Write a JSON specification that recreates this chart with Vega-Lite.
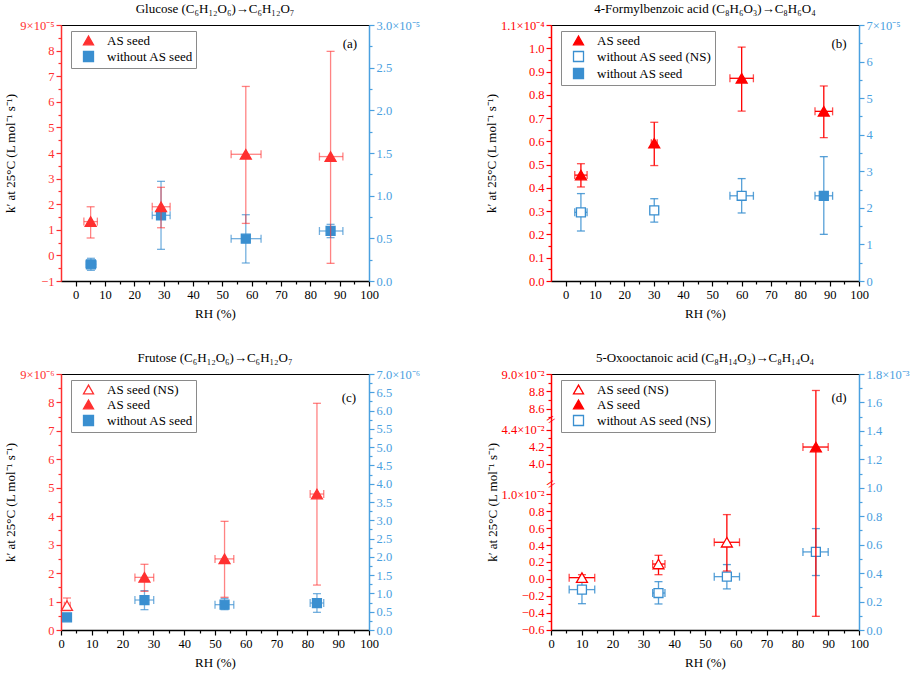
{
  "$schema": "https://vega.github.io/schema/vega-lite/v6.json",
  "background": "white",
  "padding": {"left": 4, "top": 2, "right": 0, "bottom": 0},
  "datasets": {
    "a": [
      {"s": "AS seed", "side": "L", "x": 5.1, "xl": 2.8, "xh": 7.4, "y": 1.32, "yl": 0.68, "yh": 1.9},
      {"s": "AS seed", "side": "L", "x": 29.1, "xl": 26.1, "xh": 32.2, "y": 1.9, "yl": 1.08, "yh": 2.66},
      {"s": "AS seed", "side": "L", "x": 58, "xl": 53, "xh": 63.2, "y": 3.95, "yl": 1.25, "yh": 6.6},
      {"s": "AS seed", "side": "L", "x": 86.9, "xl": 83.1, "xh": 91.1, "y": 3.86, "yl": -0.31, "yh": 7.97},
      {"s": "without AS seed", "side": "R", "x": 5.2, "xl": 3.5, "xh": 7, "y": 0.195, "yl": 0.125, "yh": 0.266},
      {"s": "without AS seed", "side": "R", "x": 29.1, "xl": 26.1, "xh": 32.2, "y": 0.77, "yl": 0.371, "yh": 1.168},
      {"s": "without AS seed", "side": "R", "x": 58, "xl": 53, "xh": 63.2, "y": 0.496, "yl": 0.211, "yh": 0.777},
      {"s": "without AS seed", "side": "R", "x": 86.9, "xl": 83.1, "xh": 91.1, "y": 0.586, "yl": 0.508, "yh": 0.664}
    ],
    "b": [
      {"s": "AS seed", "side": "L", "x": 5.2, "xl": 3.1, "xh": 7.3, "y": 0.455, "yl": 0.404, "yh": 0.504},
      {"s": "AS seed", "side": "L", "x": 30.2, "xl": 29.2, "xh": 31.2, "y": 0.592, "yl": 0.496, "yh": 0.682},
      {"s": "AS seed", "side": "L", "x": 60, "xl": 56, "xh": 64, "y": 0.871, "yl": 0.73, "yh": 1.005},
      {"s": "AS seed", "side": "L", "x": 88, "xl": 85, "xh": 91, "y": 0.729, "yl": 0.616, "yh": 0.838},
      {"s": "without AS seed (NS)", "side": "R", "x": 5.2, "xl": 3.1, "xh": 7.3, "y": 1.878, "yl": 1.367, "yh": 2.39},
      {"s": "without AS seed (NS)", "side": "R", "x": 30.2, "xl": 29.2, "xh": 31.2, "y": 1.93, "yl": 1.61, "yh": 2.25},
      {"s": "without AS seed (NS)", "side": "R", "x": 60, "xl": 56, "xh": 64, "y": 2.33, "yl": 1.86, "yh": 2.8},
      {"s": "without AS seed", "side": "R", "x": 88, "xl": 85, "xh": 91, "y": 2.33, "yl": 1.276, "yh": 3.4}
    ],
    "c": [
      {"s": "AS seed (NS)", "side": "L", "x": 1.95, "xl": 1.1, "xh": 3, "y": 0.855, "yl": 0.68, "yh": 1.125},
      {"s": "AS seed", "side": "L", "x": 27.1, "xl": 24, "xh": 30.1, "y": 1.85, "yl": 1.36, "yh": 2.31},
      {"s": "AS seed", "side": "L", "x": 53.1, "xl": 50, "xh": 56.1, "y": 2.5, "yl": 1.15, "yh": 3.82},
      {"s": "AS seed", "side": "L", "x": 83.1, "xl": 80.9, "xh": 85.3, "y": 4.78, "yl": 1.58, "yh": 7.97},
      {"s": "without AS seed", "side": "R", "x": 1.95, "xl": 1.1, "xh": 3, "y": 0.346, "yl": 0.28, "yh": 0.41},
      {"s": "without AS seed", "side": "R", "x": 27.1, "xl": 24, "xh": 30.1, "y": 0.82, "yl": 0.556, "yh": 1.076},
      {"s": "without AS seed", "side": "R", "x": 53.1, "xl": 50, "xh": 56.1, "y": 0.693, "yl": 0.556, "yh": 0.866},
      {"s": "without AS seed", "side": "R", "x": 83.1, "xl": 80.9, "xh": 85.3, "y": 0.738, "yl": 0.483, "yh": 0.994}
    ],
    "d": [
      {"s": "AS seed (NS)", "side": "L", "x": 10.05, "xl": 5.9, "xh": 14.2, "y": 0.015, "yl": -0.017, "yh": 0.05},
      {"s": "AS seed (NS)", "side": "L", "x": 34.9, "xl": 33, "xh": 37, "y": 0.176, "yl": 0.05, "yh": 0.279},
      {"s": "AS seed (NS)", "side": "L", "x": 57.1, "xl": 53, "xh": 61.2, "y": 0.433, "yl": 0.094, "yh": 0.76},
      {"s": "AS seed", "side": "L", "x": 86, "xl": 81.8, "xh": 90, "y": 4.196, "yl": -0.442, "yh": 8.81},
      {"s": "without AS seed (NS)", "side": "R", "x": 10.05, "xl": 5.9, "xh": 14.2, "y": 0.284, "yl": 0.185, "yh": 0.357},
      {"s": "without AS seed (NS)", "side": "R", "x": 34.9, "xl": 33, "xh": 37, "y": 0.26, "yl": 0.183, "yh": 0.34},
      {"s": "without AS seed (NS)", "side": "R", "x": 57.1, "xl": 53, "xh": 61.2, "y": 0.375, "yl": 0.289, "yh": 0.46},
      {"s": "without AS seed (NS)", "side": "R", "x": 86, "xl": 81.8, "xh": 90, "y": 0.549, "yl": 0.383, "yh": 0.713}
    ]
  },
  "columns": 2,
  "spacing": {"row": 93, "column": 182},
  "bounds": "flush",
  "resolve": {
    "scale": {"shape": "independent", "fill": "independent", "stroke": "independent"},
    "legend": {"shape": "independent", "fill": "independent", "stroke": "independent"}
  },
  "concat": [
    {
      "width": 308,
      "height": 256,
      "title": "Glucose (C₆H₁₂O₆)→C₆H₁₂O₇",
      "data": {"name": "a"},
      "layer": [
        {
          "transform": [{"filter": "datum.side == 'R'"}],
          "layer": [
            {
              "mark": {"type": "errorbar", "ticks": {"size": 8}, "color": "#3a8fd0", "opacity": 0.7, "thickness": 1.3},
              "encoding": {
                "x": {"field": "x", "type": "quantitative", "axis": null},
                "y": {"field": "yl", "type": "quantitative", "axis": null},
                "y2": {"field": "yh"}
              }
            },
            {
              "mark": {"type": "errorbar", "ticks": {"size": 8}, "color": "#3a8fd0", "opacity": 0.7, "thickness": 1.3},
              "encoding": {
                "y": {"field": "y", "type": "quantitative", "axis": null},
                "x": {"field": "xl", "type": "quantitative", "axis": null},
                "x2": {"field": "xh"}
              }
            },
            {
              "mark": {"type": "point", "size": 80, "strokeWidth": 1.3, "opacity": 1},
              "encoding": {
                "x": {"field": "x", "type": "quantitative", "axis": null},
                "y": {
                  "field": "y", "type": "quantitative",
                  "scale": {"domain": [0, 3], "nice": false, "zero": false},
                  "axis": {
                    "orient": "right", "title": null, "format": ".1f",
                    "values": [0, 0.5, 1, 1.5, 2, 2.5, 3],
                    "labelExpr": "datum.value == 3 ? '3.0×10⁻⁵' : datum.label",
                    "domainColor": "#4aa0e0", "tickColor": "#4aa0e0", "labelColor": "#4aa0e0"
                  }
                },
                "shape": {"field": "s", "type": "nominal", "scale": {"domain": ["AS seed", "without AS seed"], "range": ["triangle-up", "square"]}, "legend": {"title": null}},
                "fill": {"field": "s", "type": "nominal", "scale": {"domain": ["AS seed", "without AS seed"], "range": ["#ff3030", "#3a8fd0"]}, "legend": {"title": null}},
                "stroke": {"field": "s", "type": "nominal", "scale": {"domain": ["AS seed", "without AS seed"], "range": ["#ff3030", "#3a8fd0"]}, "legend": {"title": null}}
              }
            },
            {
              "mark": {"type": "point", "opacity": 0},
              "encoding": {
                "x": {"field": "x", "type": "quantitative", "axis": null},
                "y": {
                  "field": "y", "type": "quantitative",
                  "axis": {"orient": "right", "title": null, "labels": false, "domain": false, "tickSize": 3, "tickColor": "#4aa0e0", "values": [0.25, 0.75, 1.25, 1.75, 2.25, 2.75]}
                }
              }
            }
          ],
          "resolve": {"axis": {"x": "independent", "y": "independent"}}
        },
        {
          "transform": [{"filter": "datum.side == 'L'"}],
          "layer": [
            {
              "mark": {"type": "errorbar", "ticks": {"size": 8}, "color": "#ff3030", "opacity": 0.6, "thickness": 1.3},
              "encoding": {
                "x": {"field": "x", "type": "quantitative", "axis": null},
                "y": {"field": "yl", "type": "quantitative", "axis": null},
                "y2": {"field": "yh"}
              }
            },
            {
              "mark": {"type": "errorbar", "ticks": {"size": 8}, "color": "#ff3030", "opacity": 0.6, "thickness": 1.3},
              "encoding": {
                "y": {"field": "y", "type": "quantitative", "axis": null},
                "x": {"field": "xl", "type": "quantitative", "axis": null},
                "x2": {"field": "xh"}
              }
            },
            {
              "mark": {"type": "point", "size": 120, "strokeWidth": 1.3, "opacity": 1},
              "encoding": {
                "x": {
                  "field": "x", "type": "quantitative",
                  "scale": {"domain": [-5, 100], "nice": false, "zero": false},
                  "axis": {"orient": "bottom", "title": "RH (%)", "values": [0, 10, 20, 30, 40, 50, 60, 70, 80, 90, 100]}
                },
                "y": {
                  "field": "y", "type": "quantitative",
                  "scale": {"domain": [-1, 9], "nice": false, "zero": false},
                  "axis": {
                    "orient": "left", "title": "k′ at 25°C (L mol⁻¹ s⁻¹)",
                    "values": [-1, 0, 1, 2, 3, 4, 5, 6, 7, 8, 9],
                    "labelExpr": "datum.value == 9 ? '9×10⁻⁵' : datum.label",
                    "domainColor": "#ff3030", "tickColor": "#ff3030", "labelColor": "#ff3030"
                  }
                },
                "shape": {"field": "s", "type": "nominal", "legend": {"title": null}},
                "fill": {"field": "s", "type": "nominal", "legend": {"title": null}},
                "stroke": {"field": "s", "type": "nominal", "legend": {"title": null}}
              }
            },
            {
              "mark": {"type": "point", "opacity": 0},
              "encoding": {
                "x": {
                  "field": "x", "type": "quantitative",
                  "axis": {"orient": "bottom", "title": null, "labels": false, "domain": false, "tickSize": 3, "values": [5, 15, 25, 35, 45, 55, 65, 75, 85, 95]}
                },
                "y": {
                  "field": "y", "type": "quantitative",
                  "axis": {"orient": "left", "title": null, "labels": false, "domain": false, "tickSize": 3, "tickColor": "#ff3030", "values": [-0.5, 0.5, 1.5, 2.5, 3.5, 4.5, 5.5, 6.5, 7.5, 8.5]}
                }
              }
            },
            {
              "data": {"values": [{"t": "(a)"}]},
              "mark": {"type": "text", "fontSize": 13, "color": "black"},
              "encoding": {
                "x": {"datum": 93.5, "type": "quantitative", "axis": null},
                "y": {"datum": 8.27, "type": "quantitative", "axis": null},
                "text": {"field": "t"}
              }
            }
          ],
          "resolve": {"axis": {"x": "independent", "y": "independent"}}
        }
      ],
      "resolve": {"scale": {"y": "independent"}, "axis": {"x": "independent", "y": "independent"}}
    },
    {
      "width": 308,
      "height": 256,
      "title": "4-Formylbenzoic acid (C₈H₆O₃)→C₈H₆O₄",
      "data": {"name": "b"},
      "layer": [
        {
          "transform": [{"filter": "datum.side == 'R'"}],
          "layer": [
            {
              "mark": {"type": "errorbar", "ticks": {"size": 8}, "color": "#3a8fd0", "opacity": 0.85, "thickness": 1.3},
              "encoding": {
                "x": {"field": "x", "type": "quantitative", "axis": null},
                "y": {"field": "yl", "type": "quantitative", "axis": null},
                "y2": {"field": "yh"}
              }
            },
            {
              "mark": {"type": "errorbar", "ticks": {"size": 8}, "color": "#3a8fd0", "opacity": 0.85, "thickness": 1.3},
              "encoding": {
                "y": {"field": "y", "type": "quantitative", "axis": null},
                "x": {"field": "xl", "type": "quantitative", "axis": null},
                "x2": {"field": "xh"}
              }
            },
            {
              "mark": {"type": "point", "size": 80, "strokeWidth": 1.3, "opacity": 1},
              "encoding": {
                "x": {"field": "x", "type": "quantitative", "axis": null},
                "y": {
                  "field": "y", "type": "quantitative",
                  "scale": {"domain": [0, 7], "nice": false, "zero": false},
                  "axis": {
                    "orient": "right", "title": null,
                    "values": [0, 1, 2, 3, 4, 5, 6, 7],
                    "labelExpr": "datum.value == 7 ? '7×10⁻⁵' : datum.label",
                    "domainColor": "#4aa0e0", "tickColor": "#4aa0e0", "labelColor": "#4aa0e0"
                  }
                },
                "shape": {"field": "s", "type": "nominal", "scale": {"domain": ["AS seed", "without AS seed (NS)", "without AS seed"], "range": ["triangle-up", "square", "square"]}, "legend": {"title": null}},
                "fill": {"field": "s", "type": "nominal", "scale": {"domain": ["AS seed", "without AS seed (NS)", "without AS seed"], "range": ["#ff0000", "#ffffff", "#3a8fd0"]}, "legend": {"title": null}},
                "stroke": {"field": "s", "type": "nominal", "scale": {"domain": ["AS seed", "without AS seed (NS)", "without AS seed"], "range": ["#ff0000", "#3a8fd0", "#3a8fd0"]}, "legend": {"title": null}}
              }
            },
            {
              "mark": {"type": "point", "opacity": 0},
              "encoding": {
                "x": {"field": "x", "type": "quantitative", "axis": null},
                "y": {
                  "field": "y", "type": "quantitative",
                  "axis": {"orient": "right", "title": null, "labels": false, "domain": false, "tickSize": 3, "tickColor": "#4aa0e0", "values": [0.5, 1.5, 2.5, 3.5, 4.5, 5.5, 6.5]}
                }
              }
            }
          ],
          "resolve": {"axis": {"x": "independent", "y": "independent"}}
        },
        {
          "transform": [{"filter": "datum.side == 'L'"}],
          "layer": [
            {
              "mark": {"type": "errorbar", "ticks": {"size": 8}, "color": "#ff0000", "thickness": 1.3},
              "encoding": {
                "x": {"field": "x", "type": "quantitative", "axis": null},
                "y": {"field": "yl", "type": "quantitative", "axis": null},
                "y2": {"field": "yh"}
              }
            },
            {
              "mark": {"type": "errorbar", "ticks": {"size": 8}, "color": "#ff0000", "thickness": 1.3},
              "encoding": {
                "y": {"field": "y", "type": "quantitative", "axis": null},
                "x": {"field": "xl", "type": "quantitative", "axis": null},
                "x2": {"field": "xh"}
              }
            },
            {
              "mark": {"type": "point", "size": 120, "strokeWidth": 1.3, "opacity": 1},
              "encoding": {
                "x": {
                  "field": "x", "type": "quantitative",
                  "scale": {"domain": [-5, 100], "nice": false, "zero": false},
                  "axis": {"orient": "bottom", "title": "RH (%)", "values": [0, 10, 20, 30, 40, 50, 60, 70, 80, 90, 100]}
                },
                "y": {
                  "field": "y", "type": "quantitative",
                  "scale": {"domain": [0, 1.1], "nice": false, "zero": false},
                  "axis": {
                    "orient": "left", "title": "k′ at 25°C (L mol⁻¹ s⁻¹)", "format": ".1f",
                    "values": [0, 0.1, 0.2, 0.3, 0.4, 0.5, 0.6, 0.7, 0.8, 0.9, 1.0, 1.1],
                    "labelExpr": "datum.value == 1.1 ? '1.1×10⁻⁴' : datum.label",
                    "domainColor": "#ff0000", "tickColor": "#ff0000", "labelColor": "#ff0000"
                  }
                },
                "shape": {"field": "s", "type": "nominal", "legend": {"title": null}},
                "fill": {"field": "s", "type": "nominal", "legend": {"title": null}},
                "stroke": {"field": "s", "type": "nominal", "legend": {"title": null}}
              }
            },
            {
              "mark": {"type": "point", "opacity": 0},
              "encoding": {
                "x": {
                  "field": "x", "type": "quantitative",
                  "axis": {"orient": "bottom", "title": null, "labels": false, "domain": false, "tickSize": 3, "values": [5, 15, 25, 35, 45, 55, 65, 75, 85, 95]}
                },
                "y": {
                  "field": "y", "type": "quantitative",
                  "axis": {"orient": "left", "title": null, "labels": false, "domain": false, "tickSize": 3, "tickColor": "#ff0000", "values": [0.05, 0.15, 0.25, 0.35, 0.45, 0.55, 0.65, 0.75, 0.85, 0.95, 1.05]}
                }
              }
            },
            {
              "data": {"values": [{"t": "(b)"}]},
              "mark": {"type": "text", "fontSize": 13, "color": "black"},
              "encoding": {
                "x": {"datum": 93.2, "type": "quantitative", "axis": null},
                "y": {"datum": 1.02, "type": "quantitative", "axis": null},
                "text": {"field": "t"}
              }
            }
          ],
          "resolve": {"axis": {"x": "independent", "y": "independent"}}
        }
      ],
      "resolve": {"scale": {"y": "independent"}, "axis": {"x": "independent", "y": "independent"}}
    },
    {
      "width": 308,
      "height": 256,
      "title": "Frutose (C₆H₁₂O₆)→C₆H₁₂O₇",
      "data": {"name": "c"},
      "layer": [
        {
          "transform": [{"filter": "datum.side == 'R'"}],
          "layer": [
            {
              "mark": {"type": "errorbar", "ticks": {"size": 8}, "color": "#3a8fd0", "opacity": 0.7, "thickness": 1.3},
              "encoding": {
                "x": {"field": "x", "type": "quantitative", "axis": null},
                "y": {"field": "yl", "type": "quantitative", "axis": null},
                "y2": {"field": "yh"}
              }
            },
            {
              "mark": {"type": "errorbar", "ticks": {"size": 8}, "color": "#3a8fd0", "opacity": 0.7, "thickness": 1.3},
              "encoding": {
                "y": {"field": "y", "type": "quantitative", "axis": null},
                "x": {"field": "xl", "type": "quantitative", "axis": null},
                "x2": {"field": "xh"}
              }
            },
            {
              "mark": {"type": "point", "size": 80, "strokeWidth": 1.3, "opacity": 1},
              "encoding": {
                "x": {"field": "x", "type": "quantitative", "axis": null},
                "y": {
                  "field": "y", "type": "quantitative",
                  "scale": {"domain": [0, 7], "nice": false, "zero": false},
                  "axis": {
                    "orient": "right", "title": null, "format": ".1f",
                    "values": [0, 0.5, 1, 1.5, 2, 2.5, 3, 3.5, 4, 4.5, 5, 5.5, 6, 6.5, 7],
                    "labelExpr": "datum.value == 7 ? '7.0×10⁻⁶' : datum.label",
                    "domainColor": "#4aa0e0", "tickColor": "#4aa0e0", "labelColor": "#4aa0e0"
                  }
                },
                "shape": {"field": "s", "type": "nominal", "scale": {"domain": ["AS seed (NS)", "AS seed", "without AS seed"], "range": ["triangle-up", "triangle-up", "square"]}, "legend": {"title": null}},
                "fill": {"field": "s", "type": "nominal", "scale": {"domain": ["AS seed (NS)", "AS seed", "without AS seed"], "range": ["#ffffff", "#ff3030", "#3a8fd0"]}, "legend": {"title": null}},
                "stroke": {"field": "s", "type": "nominal", "scale": {"domain": ["AS seed (NS)", "AS seed", "without AS seed"], "range": ["#ff3030", "#ff3030", "#3a8fd0"]}, "legend": {"title": null}}
              }
            },
            {
              "mark": {"type": "point", "opacity": 0},
              "encoding": {
                "x": {"field": "x", "type": "quantitative", "axis": null},
                "y": {
                  "field": "y", "type": "quantitative",
                  "axis": {"orient": "right", "title": null, "labels": false, "domain": false, "tickSize": 3, "tickColor": "#4aa0e0", "values": [0.25, 0.75, 1.25, 1.75, 2.25, 2.75, 3.25, 3.75, 4.25, 4.75, 5.25, 5.75, 6.25, 6.75]}
                }
              }
            }
          ],
          "resolve": {"axis": {"x": "independent", "y": "independent"}}
        },
        {
          "transform": [{"filter": "datum.side == 'L'"}],
          "layer": [
            {
              "mark": {"type": "errorbar", "ticks": {"size": 8}, "color": "#ff3030", "opacity": 0.6, "thickness": 1.3},
              "encoding": {
                "x": {"field": "x", "type": "quantitative", "axis": null},
                "y": {"field": "yl", "type": "quantitative", "axis": null},
                "y2": {"field": "yh"}
              }
            },
            {
              "mark": {"type": "errorbar", "ticks": {"size": 8}, "color": "#ff3030", "opacity": 0.6, "thickness": 1.3},
              "encoding": {
                "y": {"field": "y", "type": "quantitative", "axis": null},
                "x": {"field": "xl", "type": "quantitative", "axis": null},
                "x2": {"field": "xh"}
              }
            },
            {
              "mark": {"type": "point", "size": 120, "strokeWidth": 1.3, "opacity": 1},
              "encoding": {
                "x": {
                  "field": "x", "type": "quantitative",
                  "scale": {"domain": [0, 100], "nice": false, "zero": false},
                  "axis": {"orient": "bottom", "title": "RH (%)", "values": [0, 10, 20, 30, 40, 50, 60, 70, 80, 90, 100]}
                },
                "y": {
                  "field": "y", "type": "quantitative",
                  "scale": {"domain": [0, 9], "nice": false, "zero": false},
                  "axis": {
                    "orient": "left", "title": "k′ at 25°C (L mol⁻¹ s⁻¹)",
                    "values": [0, 1, 2, 3, 4, 5, 6, 7, 8, 9],
                    "labelExpr": "datum.value == 9 ? '9×10⁻⁶' : datum.label",
                    "domainColor": "#ff3030", "tickColor": "#ff3030", "labelColor": "#ff3030"
                  }
                },
                "shape": {"field": "s", "type": "nominal", "legend": {"title": null}},
                "fill": {"field": "s", "type": "nominal", "legend": {"title": null}},
                "stroke": {"field": "s", "type": "nominal", "legend": {"title": null}}
              }
            },
            {
              "mark": {"type": "point", "opacity": 0},
              "encoding": {
                "x": {
                  "field": "x", "type": "quantitative",
                  "axis": {"orient": "bottom", "title": null, "labels": false, "domain": false, "tickSize": 3, "values": [5, 15, 25, 35, 45, 55, 65, 75, 85, 95]}
                },
                "y": {
                  "field": "y", "type": "quantitative",
                  "axis": {"orient": "left", "title": null, "labels": false, "domain": false, "tickSize": 3, "tickColor": "#ff3030", "values": [0.5, 1.5, 2.5, 3.5, 4.5, 5.5, 6.5, 7.5, 8.5]}
                }
              }
            },
            {
              "data": {"values": [{"t": "(c)"}]},
              "mark": {"type": "text", "fontSize": 13, "color": "black"},
              "encoding": {
                "x": {"datum": 93.5, "type": "quantitative", "axis": null},
                "y": {"datum": 8.14, "type": "quantitative", "axis": null},
                "text": {"field": "t"}
              }
            }
          ],
          "resolve": {"axis": {"x": "independent", "y": "independent"}}
        }
      ],
      "resolve": {"scale": {"y": "independent"}, "axis": {"x": "independent", "y": "independent"}}
    },
    {
      "width": 308,
      "height": 256,
      "title": "5-Oxooctanoic acid (C₈H₁₄O₃)→C₈H₁₄O₄",
      "data": {"name": "d"},
      "layer": [
        {
          "transform": [{"filter": "datum.side == 'R'"}],
          "layer": [
            {
              "mark": {"type": "errorbar", "ticks": {"size": 8}, "color": "#3a8fd0", "opacity": 0.85, "thickness": 1.3},
              "encoding": {
                "x": {"field": "x", "type": "quantitative", "axis": null},
                "y": {"field": "yl", "type": "quantitative", "axis": null},
                "y2": {"field": "yh"}
              }
            },
            {
              "mark": {"type": "errorbar", "ticks": {"size": 8}, "color": "#3a8fd0", "opacity": 0.85, "thickness": 1.3},
              "encoding": {
                "y": {"field": "y", "type": "quantitative", "axis": null},
                "x": {"field": "xl", "type": "quantitative", "axis": null},
                "x2": {"field": "xh"}
              }
            },
            {
              "mark": {"type": "point", "size": 80, "strokeWidth": 1.3, "opacity": 1},
              "encoding": {
                "x": {"field": "x", "type": "quantitative", "axis": null},
                "y": {
                  "field": "y", "type": "quantitative",
                  "scale": {"domain": [0, 1.8], "nice": false, "zero": false},
                  "axis": {
                    "orient": "right", "title": null, "format": ".1f",
                    "values": [0, 0.2, 0.4, 0.6, 0.8, 1.0, 1.2, 1.4, 1.6, 1.8],
                    "labelExpr": "datum.value == 1.8 ? '1.8×10⁻³' : datum.label",
                    "domainColor": "#4aa0e0", "tickColor": "#4aa0e0", "labelColor": "#4aa0e0"
                  }
                },
                "shape": {"field": "s", "type": "nominal", "scale": {"domain": ["AS seed (NS)", "AS seed", "without AS seed (NS)"], "range": ["triangle-up", "triangle-up", "square"]}, "legend": {"title": null}},
                "fill": {"field": "s", "type": "nominal", "scale": {"domain": ["AS seed (NS)", "AS seed", "without AS seed (NS)"], "range": ["#ffffff", "#ff0000", "#ffffff"]}, "legend": {"title": null}},
                "stroke": {"field": "s", "type": "nominal", "scale": {"domain": ["AS seed (NS)", "AS seed", "without AS seed (NS)"], "range": ["#ff0000", "#ff0000", "#3a8fd0"]}, "legend": {"title": null}}
              }
            },
            {
              "mark": {"type": "point", "opacity": 0},
              "encoding": {
                "x": {"field": "x", "type": "quantitative", "axis": null},
                "y": {
                  "field": "y", "type": "quantitative",
                  "axis": {"orient": "right", "title": null, "labels": false, "domain": false, "tickSize": 3, "tickColor": "#4aa0e0", "values": [0.1, 0.3, 0.5, 0.7, 0.9, 1.1, 1.3, 1.5, 1.7]}
                }
              }
            }
          ],
          "resolve": {"axis": {"x": "independent", "y": "independent"}}
        },
        {
          "transform": [{"filter": "datum.side == 'L'"}],
          "layer": [
            {
              "mark": {"type": "errorbar", "ticks": {"size": 8}, "color": "#ff0000", "thickness": 1.3},
              "encoding": {
                "x": {"field": "x", "type": "quantitative", "axis": null},
                "y": {"field": "yl", "type": "quantitative", "axis": null},
                "y2": {"field": "yh"}
              }
            },
            {
              "mark": {"type": "errorbar", "ticks": {"size": 8}, "color": "#ff0000", "thickness": 1.3},
              "encoding": {
                "y": {"field": "y", "type": "quantitative", "axis": null},
                "x": {"field": "xl", "type": "quantitative", "axis": null},
                "x2": {"field": "xh"}
              }
            },
            {
              "mark": {"type": "point", "size": 120, "strokeWidth": 1.3, "opacity": 1},
              "encoding": {
                "x": {
                  "field": "x", "type": "quantitative",
                  "scale": {"domain": [0, 100], "nice": false, "zero": false},
                  "axis": {"orient": "bottom", "title": "RH (%)", "values": [0, 10, 20, 30, 40, 50, 60, 70, 80, 90, 100]}
                },
                "y": {
                  "field": "y", "type": "quantitative",
                  "scale": {"domain": [-0.6, 1.118, 3.757, 4.518, 8.473, 9.0], "range": [255.7, 110.3, 110.3, 45.7, 45.7, 0], "nice": false, "zero": false},
                  "axis": {
                    "orient": "left", "title": "k′ at 25°C (L mol⁻¹ s⁻¹)", "format": ".1f",
                    "values": [-0.6, -0.4, -0.2, 0, 0.2, 0.4, 0.6, 0.8, 1.0, 4.0, 4.2, 4.4, 8.6, 8.8, 9.0],
                    "labelExpr": "datum.value == 1 ? '1.0×10⁻²' : datum.value == 4.4 ? '4.4×10⁻²' : datum.value == 9 ? '9.0×10⁻²' : datum.label",
                    "domainColor": "#ff0000", "tickColor": "#ff0000", "labelColor": "#ff0000"
                  }
                },
                "shape": {"field": "s", "type": "nominal", "legend": {"title": null}},
                "fill": {"field": "s", "type": "nominal", "legend": {"title": null}},
                "stroke": {"field": "s", "type": "nominal", "legend": {"title": null}}
              }
            },
            {
              "mark": {"type": "point", "opacity": 0},
              "encoding": {
                "x": {
                  "field": "x", "type": "quantitative",
                  "axis": {"orient": "bottom", "title": null, "labels": false, "domain": false, "tickSize": 3, "values": [5, 15, 25, 35, 45, 55, 65, 75, 85, 95]}
                },
                "y": {
                  "field": "y", "type": "quantitative",
                  "axis": {"orient": "left", "title": null, "labels": false, "domain": false, "tickSize": 3, "tickColor": "#ff0000", "values": [-0.5, -0.3, -0.1, 0.1, 0.3, 0.5, 0.7, 0.9, 3.9, 4.1, 4.3, 8.5, 8.7, 8.9]}
                }
              }
            },
            {
              "data": {"values": [{"t": "(d)"}]},
              "mark": {"type": "text", "fontSize": 13, "color": "black"},
              "encoding": {
                "x": {"datum": 93.5, "type": "quantitative", "axis": null},
                "y": {"datum": 8.72, "type": "quantitative", "axis": null},
                "text": {"field": "t"}
              }
            },
            {
              "data": {"values": [{"t": "="}]},
              "mark": {"type": "text", "fontSize": 16, "color": "#ff0000", "angle": -35},
              "encoding": {
                "x": {"datum": 0, "type": "quantitative", "axis": null},
                "y": {"datum": 1.118, "type": "quantitative", "axis": null},
                "text": {"field": "t"}
              }
            },
            {
              "data": {"values": [{"t": "="}]},
              "mark": {"type": "text", "fontSize": 16, "color": "#ff0000", "angle": -35},
              "encoding": {
                "x": {"datum": 0, "type": "quantitative", "axis": null},
                "y": {"datum": 4.518, "type": "quantitative", "axis": null},
                "text": {"field": "t"}
              }
            }
          ],
          "resolve": {"axis": {"x": "independent", "y": "independent"}}
        }
      ],
      "resolve": {"scale": {"y": "independent"}, "axis": {"x": "independent", "y": "independent"}}
    }
  ],
  "config": {
    "font": "Liberation Serif",
    "view": {"stroke": "black", "strokeWidth": 1},
    "axis": {
      "labelFont": "Liberation Serif", "labelFontSize": 12.5, "titleFont": "Liberation Serif", "titleFontSize": 13,
      "titleFontWeight": "normal", "titleColor": "black", "grid": false, "tickWidth": 1.2, "tickSize": 5, "domainWidth": 1.5,
      "labelOverlap": false, "labelFlush": false, "labelPadding": 2, "domainColor": "black", "tickColor": "black", "labelColor": "black"
    },
    "axisX": {"titlePadding": 7},
    "axisY": {"titlePadding": 2},
    "legend": {
      "orient": "none", "legendX": 10, "legendY": 6, "strokeColor": "#8a8a8a", "fillColor": "white", "padding": 3,
      "labelFont": "Liberation Serif", "labelFontSize": 13, "symbolSize": 100, "symbolStrokeWidth": 1.3,
      "rowPadding": 0, "labelOffset": 12, "symbolOffset": 8
    },
    "title": {"font": "Liberation Serif", "fontSize": 13, "fontWeight": "normal", "offset": 3, "color": "black"}
  }
}
